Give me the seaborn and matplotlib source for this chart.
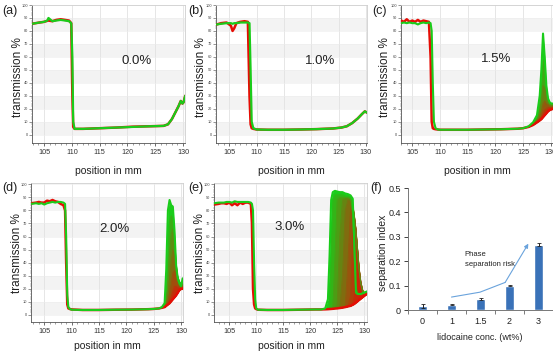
import numpy as np
import matplotlib
matplotlib.use("Agg")
import matplotlib.pyplot as plt
import seaborn as sns

sns.set_theme(style="white")
plt.rcParams['font.family'] = ['Liberation Sans', 'DejaVu Sans']

# ---------------- data ----------------
# panel (a) 0.0 %
a_x = [102.8, 103.5, 104.2, 105.0, 105.6, 105.8, 106.5, 107.2, 108.0, 108.8, 109.5, 109.9, 110.1, 110.25,
       110.5, 112, 115, 118, 121, 124, 126.5, 127.3, 128.0, 128.6, 129.2, 129.6, 129.9, 130.1, 130.4]
a_green = [85.5, 86, 86.5, 87, 88, 90, 87.5, 88, 88.5, 88, 87.5, 86, 60, 10,
           4.5, 4.5, 5, 5.5, 6, 6.5, 6.8, 8, 12, 17, 22, 26, 24, 25, 30]
a_red = [85.5, 86, 86.5, 87, 87.8, 88, 87.5, 88.5, 89, 88.5, 88, 86, 30, 6,
         4.5, 4.5, 5, 5.5, 6.2, 6.5, 6.8, 8, 12, 17, 22, 26, 24, 25, 30]

# panel (b) 1.0 %
b_x = [102.7, 103.5, 104.5, 105.3, 105.6, 105.9, 106.3, 107, 107.8, 108.4, 108.7, 108.9, 109.1, 109.4,
       110, 112, 115, 118, 121, 124, 125.5, 126.5, 127.5, 128.5, 129.3, 129.8, 130.2]
b_green = [85, 85.5, 86, 86, 85.5, 86, 86, 86.5, 86.5, 86.5, 86, 50, 10, 5,
           4, 3.8, 3.8, 4, 4.3, 4.8, 5.5, 6.5, 9, 12.5, 16, 18, 17]
b_red = [85, 86, 86.5, 84, 80, 82, 86, 87, 87.5, 87, 30, 8, 5, 4.5,
         4, 3.8, 3.8, 4, 4.3, 4.8, 5.5, 6.5, 9, 12.5, 16, 18, 17]

# panel (c) 1.5 %
c_x = [103, 103.5, 104, 104.5, 105, 105.5, 106, 106.5, 107, 107.5, 108, 108.3, 108.5, 108.7,
       108.9, 109.2, 109.6, 110, 112, 115, 118, 121]
c_green = [86, 86.5, 86, 86.5, 86, 86, 85, 86, 86.5, 86, 86.5, 86, 80, 40,
           10, 5, 4, 3.8, 3.8, 3.8, 4, 4.2]
c_red = [88, 87, 89, 87, 88, 87, 88.5, 87, 88, 87.5, 87, 60, 10, 5,
         4.5, 4.2, 4, 3.8, 3.8, 3.8, 4, 4.2]
c_peak_x = [124, 125, 126, 126.8, 127.5, 128.0, 128.3, 128.6, 128.9, 129.2, 129.5, 129.8, 130.1, 130.4]
c_p0 = [4.6, 5, 6, 7.5, 9.5, 11, 12, 13.5, 15, 16.5, 18, 19, 19.5, 20]
c_p1 = [4.6, 5, 6, 7.5, 10, 12, 14, 17, 19, 20, 21, 21, 21, 21]
c_p2 = [4.6, 5, 6, 8, 11, 14, 18, 24, 26, 24, 23, 22, 22, 22]
c_p3 = [4.6, 5, 6.2, 8.5, 12, 18, 26, 38, 36, 29, 25, 23, 23, 23]
c_p4 = [4.6, 5, 6.3, 9, 13, 24, 38, 58, 50, 34, 27, 24, 24, 24]
c_p5 = [4.6, 5, 6.5, 9.5, 15, 30, 50, 78, 60, 38, 28, 25, 24, 24]

# panel (d) 2.0 %
d_x = [102.6, 103.5, 104, 104.5, 105, 105.5, 106, 106.5, 107, 107.5, 108, 108.5, 108.8, 109.0,
       109.2, 109.4, 109.7, 110, 112, 115, 118, 121]
d_green = [85, 85.5, 85, 85.5, 84.5, 85.5, 86, 86.5, 86, 86.5, 86.5, 86, 85, 60,
           15, 6, 4.5, 4, 3.8, 3.8, 4, 4.1]
d_red = [85.5, 86, 86.5, 86, 86, 87.5, 87, 88, 87, 86.5, 85, 84, 80, 40,
         8, 5, 4.5, 4.2, 3.8, 3.8, 4, 4.1]
d_peak_x = [124, 125, 126, 126.5, 127.0, 127.3, 127.6, 127.9, 128.2, 128.5, 128.8, 129.1, 129.4, 129.7, 130.0, 130.3]
d_p0 = [4.4, 4.6, 5, 5.5, 6, 7, 8, 9, 10.5, 12, 13.5, 15, 17, 19, 20, 20]
d_p1 = [4.4, 4.6, 5, 5.5, 6.2, 7.5, 9, 11, 14, 18, 22, 22, 21, 20.5, 20.5, 21]
d_p2 = [4.4, 4.6, 5, 5.6, 6.5, 8, 11, 16, 24, 32, 34, 28, 24, 22, 21.5, 22]
d_p3 = [4.4, 4.6, 5, 5.7, 7, 10, 16, 28, 42, 50, 45, 34, 27, 24, 23, 23]
d_p4 = [4.4, 4.6, 5, 5.8, 7.5, 13, 28, 48, 62, 66, 55, 38, 29, 25, 24, 24]
d_p5 = [4.4, 4.6, 5, 5.9, 8, 20, 50, 72, 76, 74, 62, 40, 30, 26, 24, 25]
d_p6 = [4.4, 4.6, 5, 6, 9, 35, 80, 88, 84, 83, 65, 38, 28, 24, 22, 28]

# panel (e) 3.0 %
e_x = [102.2, 103, 103.5, 104, 104.5, 105, 105.5, 106, 106.5, 107, 107.5, 108, 108.5, 109, 109.2,
       109.4, 109.6, 109.8, 110, 110.3, 112, 115, 118]
e_green = [85.5, 86, 86, 86, 86.5, 86.5, 86, 87, 86.5, 86.5, 86.5, 86.5, 86.5, 86, 85,
           80, 40, 12, 5, 4, 3.8, 3.8, 4]
e_red = [84.5, 85, 85.5, 85.5, 85, 86, 84, 85.5, 84, 86, 85, 86, 86, 85, 70,
         20, 8, 5, 4.5, 4, 3.8, 3.8, 4]
e_peak_x = [121, 122, 122.8, 123.3, 123.6, 123.9, 124.2, 124.6, 125, 125.5, 126, 126.5,
            127, 127.5, 127.9, 128.2, 128.5, 128.8, 129.1, 129.4, 129.7, 130.0, 130.5]
e_p0 = [4.2, 4.2, 4.3, 4.4, 4.5, 4.6, 4.7, 4.9, 5, 5.3, 5.6, 6, 6.5, 7, 7.8, 8.5, 9.5, 10.5, 11.5, 12.5, 13.5, 14.5, 16]
e_p1 = [4.2, 4.2, 4.3, 4.4, 4.5, 4.6, 4.7, 4.9, 5, 5.3, 5.6, 6, 6.5, 7.5, 9, 14, 30, 35, 28, 22, 17, 15, 16]
e_p2 = [4.2, 4.2, 4.3, 4.4, 4.5, 4.6, 4.7, 4.9, 5, 5.3, 5.6, 6, 6.5, 15, 60, 75, 65, 50, 35, 25, 19, 16, 16.5]
e_p3 = [4.2, 4.2, 4.3, 4.4, 4.5, 4.6, 4.7, 4.9, 5, 5.3, 5.6, 6, 40, 82, 84, 76, 66, 51, 36, 26, 20, 16.5, 17]
e_p4 = [4.2, 4.2, 4.3, 4.4, 4.5, 4.6, 4.7, 4.9, 5, 5.5, 30, 80, 88, 88, 85, 77, 66, 51, 36, 26, 20, 16.5, 17]
e_p5 = [4.2, 4.2, 4.3, 4.4, 4.5, 4.6, 4.7, 4.9, 8, 60, 88, 89, 89, 88, 84, 76, 65, 50, 35, 25, 19.5, 16.5, 17]
e_p6 = [4.2, 4.2, 4.3, 4.4, 4.5, 4.6, 6, 45, 88, 90, 90, 90, 90, 89, 82, 70, 60, 46, 32, 23, 18, 16.5, 17.5]
e_p7 = [4.2, 4.2, 4.3, 4.4, 6, 50, 88, 92, 92, 92, 92, 91, 91, 90, 75, 40, 22, 17, 16.5, 16.5, 17, 17.5, 18]
e_p8 = [4.2, 4.2, 5, 12, 45, 88, 94, 95, 94.5, 94, 94, 93, 92.5, 91.5, 89, 55, 17, 16, 16, 16, 16.5, 17, 18]

# panel (f)
conc_labels = ["0", "1", "1.5", "2", "3"]
sep_index = [0.017, 0.022, 0.046, 0.100, 0.268]
sep_err = [0.007, 0.003, 0.003, 0.002, 0.005]
arrow_x = [1.0, 1.98, 2.85, 3.65]
arrow_y = [0.053, 0.073, 0.113, 0.272]
# -------------------------------------------------------------

RED = np.array([0.90, 0.05, 0.02])
GREEN = np.array([0.10, 0.80, 0.10])


def blend(t):
    return tuple(RED * (1 - t) + GREEN * t)


W, H = 553, 351
fig = plt.figure(figsize=(W / 100, H / 100), dpi=100)


def rect(l, r, t, b):
    return [l / W, 1 - b / H, (r - l) / W, (b - t) / H]


def style_trans(ax, xlim, ylim):
    ax.set_xlim(xlim)
    ax.set_ylim(ylim)
    for lo in range(0, 100, 20):
        ax.axhspan(lo, lo + 10, color='#f3f3f3', zorder=0, lw=0)
    ax.set_xticks([105, 110, 115, 120, 125, 130])
    ax.set_xticks(np.arange(103, 131, 1), minor=True)
    ax.set_yticks(range(0, 101, 10))
    ax.set_yticks(range(0, 101, 2), minor=True)
    ax.set_yticklabels([str(v) for v in range(0, 101, 10)])
    ax.grid(True, axis='x', which='major', color='#e2e2e2', lw=0.6, zorder=0)
    ax.grid(True, axis='y', which='major', color='#ececec', lw=0.4, zorder=0)
    ax.set_axisbelow(True)
    ax.tick_params(axis='x', which='major', labelsize=5.2, length=2.5, width=0.5, pad=2,
                   colors='#333333', direction='out', bottom=True)
    ax.tick_params(axis='x', which='minor', length=1.5, width=0.4, colors='#555555', bottom=True)
    ax.tick_params(axis='y', which='major', labelsize=2.8, length=2, width=0.4, pad=1,
                   colors='#444444', direction='out', left=True)
    ax.tick_params(axis='y', which='minor', length=1, width=0.3, colors='#666666', left=True)
    for s in ['left', 'bottom']:
        ax.spines[s].set_color('#555555')
        ax.spines[s].set_linewidth(0.6)
    for s in ['top', 'right']:
        ax.spines[s].set_color('#cfcfcf')
        ax.spines[s].set_linewidth(0.6)
    ax.set_xlabel("")
    ax.set_ylabel("")


def line(ax, x, y, color, lw, z):
    sns.lineplot(x=x, y=y, ax=ax, color=color, lw=lw, sort=False, estimator=None, zorder=z)


def simple_panel(ax, x, red, green):
    line(ax, x, red, blend(0), 1.8, 3)
    line(ax, x, green, blend(1), 1.6, 4)


def band_panel(ax, left_x, left_red, left_green, peak_x, profiles):
    n = len(profiles)
    for k in range(n - 1, 0, -1):
        ax.fill_between(peak_x, profiles[k], profiles[0], color=blend(k / (n - 1)),
                        lw=0, zorder=2)
    for k in range(1, n - 1):
        line(ax, peak_x, profiles[k], blend(k / (n - 1)), 0.5, 3)
    line(ax, left_x + peak_x, left_red + profiles[0], blend(0), 1.8, 3)
    line(ax, left_x + peak_x, left_green + profiles[-1], blend(1), 1.5, 4)


panels = [
    ("(a)", rect(32, 185, 5, 143), (102.84, 130.36), (-6.4, 100), "0.0%", (121.7, 57)),
    ("(b)", rect(216, 367, 5, 143), (102.57, 130.2), (-6.4, 100), "1.0%", (121.6, 57)),
    ("(c)", rect(401, 553, 5, 143), (102.96, 130.4), (-6.4, 100), "1.5%", (120.1, 58)),
    ("(d)", rect(31, 183, 183, 322), (102.57, 130.36), (-5.4, 101), "2.0%", (117.9, 66)),
    ("(e)", rect(214, 367, 183, 322), (102.16, 130.55), (-5.4, 101), "3.0%", (116.2, 67)),
]
axes = []
for lab, r, xl, yl, txt, tpos in panels:
    ax = fig.add_axes(r)
    axes.append(ax)

simple_panel(axes[0], a_x, a_red, a_green)
simple_panel(axes[1], b_x, b_red, b_green)
band_panel(axes[2], c_x, c_red, c_green, c_peak_x, [c_p0, c_p1, c_p2, c_p3, c_p4, c_p5])
band_panel(axes[3], d_x, d_red, d_green, d_peak_x, [d_p0, d_p1, d_p2, d_p3, d_p4, d_p5, d_p6])
band_panel(axes[4], e_x, e_red, e_green, e_peak_x,
           [e_p0, e_p1, e_p2, e_p3, e_p4, e_p5, e_p6, e_p7, e_p8])

for ax, (lab, r, xl, yl, txt, tpos) in zip(axes, panels):
    style_trans(ax, xl, yl)
    ax.text(tpos[0], tpos[1], txt, ha='center', va='center', fontsize=9.5, color='#222222', zorder=6)

# labels for transmission panels (pixel positions)
ylab_pos = [(18, 77), (201, 77), (385, 77), (17, 253), (200, 253)]
xlab_pos = [(108, 171), (291, 171), (477, 171), (107, 346), (291, 346)]
plab_pos = [(2, 11), (188, 11), (372, 11), (2, 188), (188, 188)]
for (lab, *_), yp, xp, pp in zip(panels, ylab_pos, xlab_pos, plab_pos):
    fig.text(yp[0] / W, 1 - yp[1] / H, "transmission %", rotation=90, ha='center', va='center',
             fontsize=8.5, color='#222222')
    fig.text(xp[0] / W, 1 - xp[1] / H, "position in mm", ha='center', va='center',
             fontsize=7.5, color='#222222')
    fig.text(pp[0] / W, 1 - pp[1] / H, lab, ha='left', va='center', fontsize=9, color='#222222')

# panel (f)
axf = fig.add_axes(rect(408, 553, 188, 310))
sns.barplot(x=conc_labels, y=sep_index, order=conc_labels, color='#3a72b8', width=0.3,
            errorbar=None, ax=axf, saturation=1, zorder=2)
axf.errorbar(np.arange(len(sep_index)), sep_index, yerr=sep_err, fmt='none', ecolor='#222222',
             elinewidth=0.7, capsize=1.5, capthick=0.6, zorder=3)
axf.set_xlim(-0.5, 4.5)
axf.set_ylim(0, 0.5)
axf.set_yticks([0, 0.1, 0.2, 0.3, 0.4, 0.5])
axf.set_yticklabels(["0", "0.1", "0.2", "0.3", "0.4", "0.5"])
axf.set_xticks(np.arange(-0.5, 4.6, 1), minor=True)
axf.tick_params(axis='x', which='major', length=0, labelsize=6.5, pad=5, colors='#222222')
axf.tick_params(axis='x', which='minor', length=3, width=0.6, colors='#666666', bottom=True)
axf.tick_params(axis='y', which='major', length=3, width=0.6, labelsize=6.5, pad=2,
                colors='#222222', left=True)
for s in ['top', 'right']:
    axf.spines[s].set_visible(False)
for s in ['left', 'bottom']:
    axf.spines[s].set_color('#777777')
    axf.spines[s].set_linewidth(0.7)
axf.set_xlabel("")
axf.set_ylabel("")
axf.plot(arrow_x[:3], arrow_y[:3], color='#6aa3dc', lw=0.8, zorder=4)
axf.annotate("", xy=(arrow_x[3], arrow_y[3]), xytext=(arrow_x[2], arrow_y[2]),
             arrowprops=dict(arrowstyle='-|>', color='#6aa3dc', lw=0.8, mutation_scale=6,
                             shrinkA=0, shrinkB=0), zorder=4)
axf.text(1.45, 0.205, "Phase\nseparation risk", ha='left', va='center', fontsize=5.5,
         color='#222222', linespacing=1.6)
fig.text(383 / W, 1 - 253 / H, "separation index", rotation=90, ha='center', va='center',
         fontsize=7.5, color='#222222')
fig.text(480 / W, 1 - 337 / H, "lidocaine conc. (wt%)", ha='center', va='center',
         fontsize=6.5, color='#222222')
fig.text(370 / W, 1 - 188 / H, "(f)", ha='left', va='center', fontsize=9, color='#222222')

fig.savefig("out.png", dpi=100)
